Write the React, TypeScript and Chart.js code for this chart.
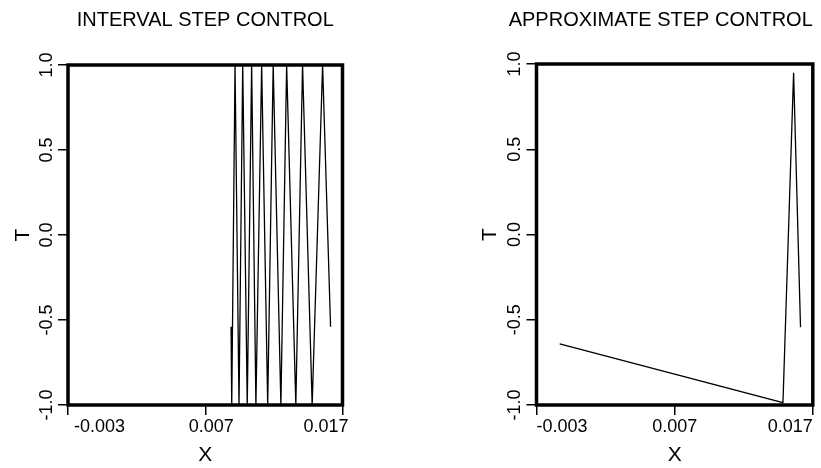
import React, { useEffect, useRef } from 'react';
import { Chart, registerables } from 'chart.js';

Chart.register(...registerables);

const FONT = '"Liberation Sans", Arial, Helvetica, sans-serif';

// Axis ticks
const X_TICKS = [-0.003, 0.007, 0.017];
const X_TICK_LABELS = ['-0.003', '0.007', '0.017'];
const Y_TICKS = [-1, -0.5, 0, 0.5, 1];
const Y_TICK_LABELS = ['-1.0', '-0.5', '0.0', '0.5', '1.0'];

// Left panel: interval step control
const INTERVAL_X = [
  0.00888, 0.00893, 0.00917, 0.00946, 0.00973, 0.01006, 0.01038, 0.01069, 0.01111,
  0.01155, 0.01195, 0.01251, 0.01293, 0.0136, 0.01409, 0.01479, 0.01555, 0.01613,
];
const INTERVAL_T = [-0.54, -1, 1, -1, 1, -1, 1, -1, 1, -1, 1, -1, 1, -1, 1, -1, 1, -0.54];

// Right panel: approximate step control
const APPROX_X = [-0.00132, 0.01484, 0.01561, 0.01611];
const APPROX_T = [-0.642, -0.986, 0.949, -0.544];

type PanelProps = {
  title: string;
  xs: number[];
  ts: number[];
  left: number;
  width: number;
  yWidth: number;
  padRight: number;
  titleAlign: 'start' | 'center' | 'end';
  titleFull: boolean;
  titlePadBottom: number;
  yTitlePad: number;
  yTickPad: number;
  xLabelOffset: number;
};

const boxPlugin = {
  id: 'boxBorder',
  afterDraw(chart: any) {
    const { ctx, chartArea } = chart;
    ctx.save();
    ctx.strokeStyle = '#000';
    ctx.lineWidth = 3.5;
    ctx.strokeRect(chartArea.left, chartArea.top, chartArea.right - chartArea.left, chartArea.bottom - chartArea.top);
    ctx.restore();
  },
};

function Panel(p: PanelProps) {
  const ref = useRef<HTMLCanvasElement | null>(null);
  useEffect(() => {
    if (!ref.current) return;
    const data = p.xs.map((x, i) => ({ x, y: p.ts[i] }));
    const chart = new Chart(ref.current, {
      type: 'scatter',
      data: {
        datasets: [
          {
            data,
            showLine: true,
            borderColor: '#000',
            borderWidth: 1.3,
            pointRadius: 0,
            tension: 0,
            fill: false,
          },
        ],
      },
      options: {
        responsive: false,
        animation: false,
        devicePixelRatio: 1,
        layout: { padding: { left: 0, right: p.padRight, top: 0, bottom: 0 } },
        plugins: {
          legend: { display: false },
          tooltip: { enabled: false },
          title: {
            display: true,
            text: p.title,
            align: p.titleAlign,
            fullSize: p.titleFull,
            color: '#000',
            font: { family: FONT, size: 20, weight: 'normal' },
            padding: { top: 8, bottom: p.titlePadBottom },
          },
        },
        scales: {
          x: {
            type: 'linear',
            min: -0.003,
            max: 0.017,
            afterBuildTicks: (s: any) => {
              s.ticks = X_TICKS.map((v) => ({ value: v }));
            },
            afterFit: (s: any) => {
              s.height = 63;
            },
            ticks: {
              align: 'inner',
              padding: 1,
              maxRotation: 0,
              autoSkip: false,
              labelOffset: p.xLabelOffset,
              color: '#000',
              font: { family: FONT, size: 18 },
              callback: (_v: any, i: number) => X_TICK_LABELS[i],
            },
            grid: {
              display: true,
              drawOnChartArea: false,
              drawTicks: true,
              tickLength: 10,
              color: '#000',
              lineWidth: 1.5,
            },
            border: { display: false },
            title: {
              display: true,
              text: 'X',
              color: '#000',
              font: { family: FONT, size: 21 },
              padding: { top: 0, bottom: 0 },
            },
          },
          y: {
            type: 'linear',
            min: -1,
            max: 1,
            afterBuildTicks: (s: any) => {
              s.ticks = Y_TICKS.map((v) => ({ value: v }));
            },
            afterFit: (s: any) => {
              s.width = p.yWidth;
            },
            ticks: {
              minRotation: 90,
              maxRotation: 90,
              crossAlign: 'center',
              padding: p.yTickPad,
              autoSkip: false,
              color: '#000',
              font: { family: FONT, size: 18 },
              callback: (_v: any, i: number) => Y_TICK_LABELS[i],
            },
            grid: {
              display: true,
              drawOnChartArea: false,
              drawTicks: true,
              tickLength: 10,
              color: '#000',
              lineWidth: 1.5,
            },
            border: { display: false },
            title: {
              display: true,
              text: 'T',
              color: '#000',
              font: { family: FONT, size: 21 },
              padding: { top: p.yTitlePad, bottom: 0 },
            },
          },
        },
      } as any,
      plugins: [boxPlugin],
    });
    return () => chart.destroy();
  }, []);
  return (
    <canvas
      ref={ref}
      width={p.width}
      height={468}
      style={{ position: 'absolute', left: p.left, top: 0, width: p.width, height: 468, display: 'block' }}
    />
  );
}

export default function App() {
  return (
    <div style={{ position: 'absolute', left: 0, top: 0, width: 821, height: 468, background: '#fff', overflow: 'hidden' }}>
      <Panel
        title="INTERVAL STEP CONTROL"
        xs={INTERVAL_X}
        ts={INTERVAL_T}
        left={0}
        width={410}
        yWidth={68}
        padRight={67.5}
        titleAlign="center"
        titleFull={false}
        titlePadBottom={33}
        yTitlePad={10.4}
        yTickPad={-5}
        xLabelOffset={6}
      />
      <Panel
        title="APPROXIMATE STEP CONTROL"
        xs={APPROX_X}
        ts={APPROX_T}
        left={410}
        width={411}
        yWidth={126.5}
        padRight={8.2}
        titleAlign="end"
        titleFull={true}
        titlePadBottom={32}
        yTitlePad={67.4}
        yTickPad={-4.5}
        xLabelOffset={0}
      />
    </div>
  );
}
